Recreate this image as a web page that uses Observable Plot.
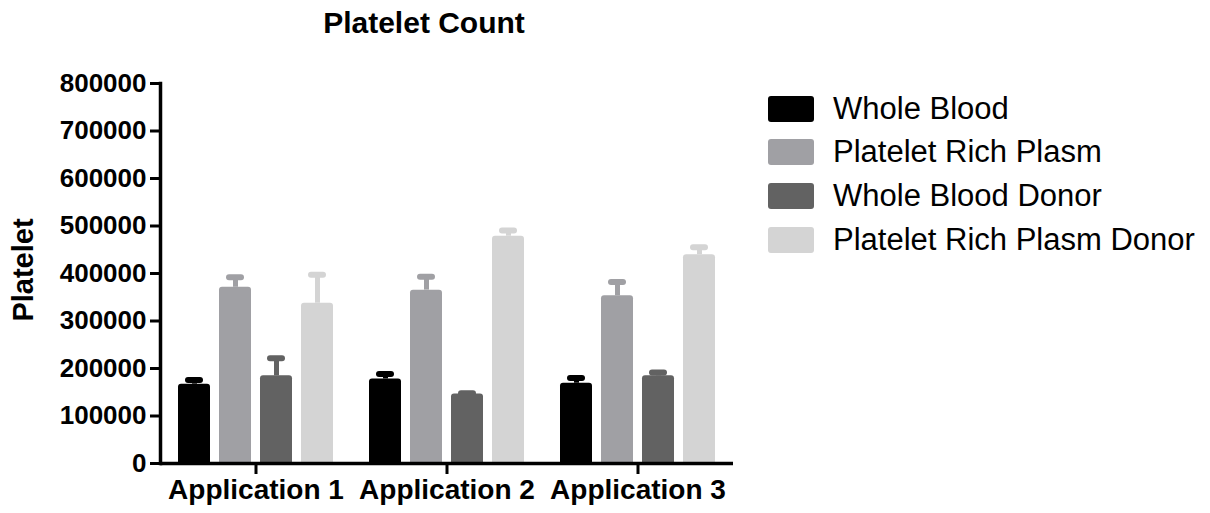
<!DOCTYPE html>
<html>
<head>
<meta charset="utf-8">
<script src="https://cdn.jsdelivr.net/npm/d3@7"></script>
<script src="https://cdn.jsdelivr.net/npm/@observablehq/plot@0.6"></script>
<style>
  html, body { margin: 0; padding: 0; background: #fff; }
  #wrap { position: relative; width: 1210px; height: 513px; font-family: "Liberation Sans", Arial, sans-serif; color: #000; }
  #chart svg { display: block; }
  #chart svg text { font-weight: bold; fill: #000; }
  .title { position: absolute; left: 424px; top: 8px; transform: translateX(-50%); font-size: 30px; font-weight: bold; line-height: 30px; white-space: nowrap; }
  .ylabel { position: absolute; left: 23px; top: 270px; transform: translate(-50%, -50%) rotate(-90deg); font-size: 29px; font-weight: bold; line-height: 29px; white-space: nowrap; }
  .leg { position: absolute; left: 768px; height: 30px; display: flex; align-items: center; white-space: nowrap; }
  .leg .sw { width: 46px; height: 26px; border-radius: 3px; margin-right: 19px; }
  .leg span { font-size: 31px; line-height: 30px; }
</style>
</head>
<body>
<div id="wrap">
  <div id="chart"></div>
</div>
<script>
// ---- data ----
const title = "Platelet Count";
const yLabel = "Platelet";
const apps = ["Application 1", "Application 2", "Application 3"];
const series = ["Whole Blood", "Platelet Rich Plasm", "Whole Blood Donor", "Platelet Rich Plasm Donor"];
const colors = ["#000000", "#a0a0a4", "#626262", "#d4d4d4"];
const wholeBlood = [167000, 178000, 169000];
const wholeBloodErr = [9000, 10500, 11000];
const plateletRich = [371000, 365000, 353000];
const plateletRichErr = [21000, 28000, 29000];
const wholeBloodDonor = [184500, 146500, 184500];
const wholeBloodDonorErr = [37000, 1500, 7000];
const plateletRichDonor = [337500, 478500, 439500];
const plateletRichDonorErr = [60000, 12000, 16000];
const yTicks = [0, 100000, 200000, 300000, 400000, 500000, 600000, 700000, 800000];

const values = [wholeBlood, plateletRich, wholeBloodDonor, plateletRichDonor];
const errors = [wholeBloodErr, plateletRichErr, wholeBloodDonorErr, plateletRichDonorErr];
const data = apps.flatMap((app, i) => series.map((s, j) => ({
  app, series: s, value: values[j][i], top: values[j][i] + errors[j][i]
})));

const W = 1210, H = 513;
const chart = Plot.plot({
  width: W, height: H,
  marginLeft: 160, marginRight: 477, marginTop: 83, marginBottom: 50,
  style: { fontFamily: "Liberation Sans, Arial, sans-serif", color: "#000", background: "transparent" },
  fx: { domain: apps, padding: 0, label: null, axis: null },
  x: { domain: series, paddingInner: 0.23, paddingOuter: 0.44, axis: null },
  y: { domain: [0, 800000], axis: null },
  color: { domain: series, range: colors },
  marks: [
    Plot.ruleX(data, { fx: "app", x: "series", y1: "value", y2: "top", stroke: "series", strokeWidth: 5 }),
    Plot.tickY(data, { fx: "app", x: "series", y: "top", stroke: "series", strokeWidth: 6, strokeLinecap: "round", inset: 10 }),
    Plot.barY(data, { fx: "app", x: "series", y: "value", fill: "series", rx: 3, insetBottom: -2 }),
    Plot.ruleY([0], { stroke: "#000", strokeWidth: 3.5 }),
    Plot.frame({ anchor: "left", facetAnchor: "left", stroke: "#000", strokeWidth: 3.5 }),
    Plot.axisY({ ticks: yTicks, tickSize: 10, tickPadding: 4, tickFormat: d3.format("d"), fontSize: 26, label: null, strokeWidth: 3 }),
    Plot.axisFx({ anchor: "bottom", tickSize: 11, tickPadding: 5, fontSize: 28, label: null, strokeWidth: 3 })
  ]
});
const wrap = document.getElementById("wrap");
document.getElementById("chart").appendChild(chart);

const t = document.createElement("div");
t.className = "title"; t.textContent = title; wrap.appendChild(t);
const yl = document.createElement("div");
yl.className = "ylabel"; yl.textContent = yLabel; wrap.appendChild(yl);

const legTops = [93.5, 137, 180.5, 224.5];
series.forEach((s, i) => {
  const row = document.createElement("div");
  row.className = "leg";
  row.style.top = legTops[i] + "px";
  const sw = document.createElement("div");
  sw.className = "sw"; sw.style.background = colors[i];
  const sp = document.createElement("span");
  sp.textContent = s;
  row.appendChild(sw); row.appendChild(sp);
  wrap.appendChild(row);
});
</script>
</body>
</html>
